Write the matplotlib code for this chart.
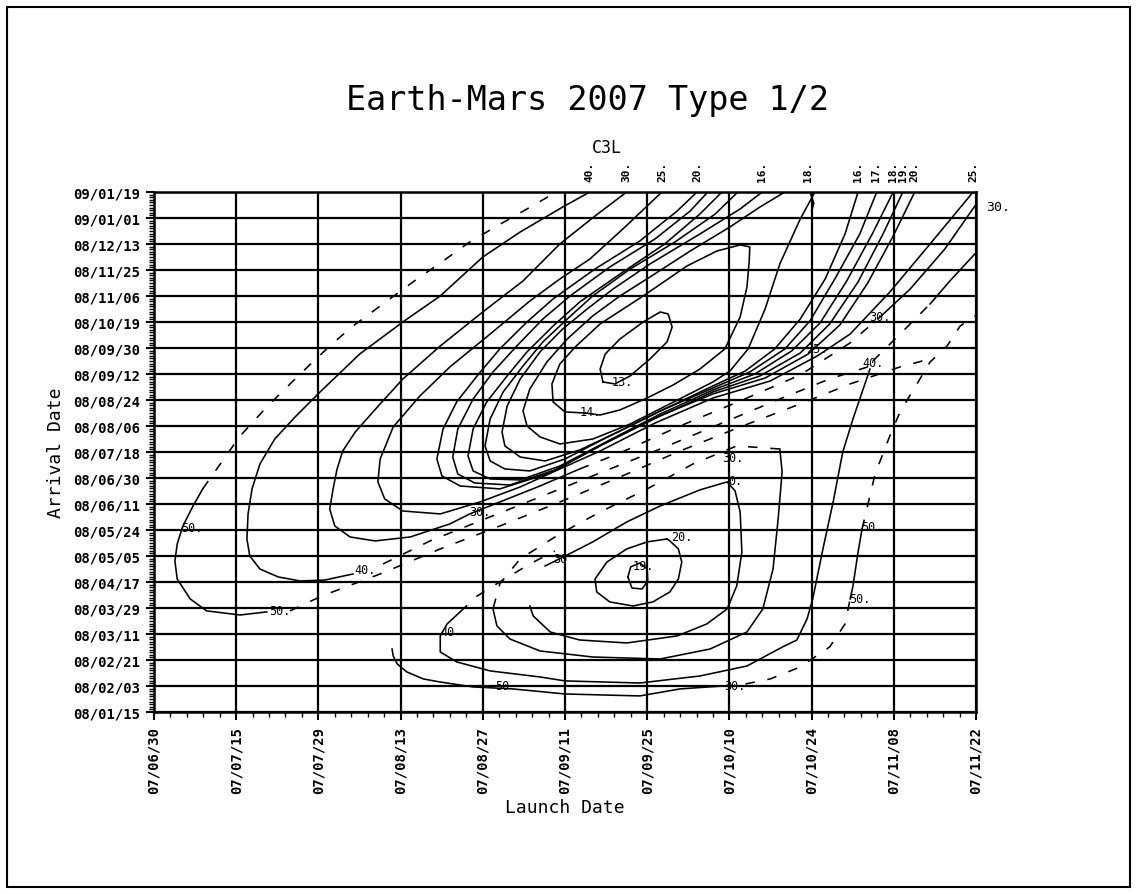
import matplotlib
matplotlib.use("Agg")
import matplotlib.pyplot as plt
import matplotlib.transforms as mtransforms
from matplotlib.patches import Rectangle
from matplotlib.ticker import FixedLocator, MultipleLocator

# launch: days after 2007-06-30, arrival: days after 2008-01-15
launch_ticks = ["07/06/30", "07/07/15", "07/07/29", "07/08/13", "07/08/27", "07/09/11",
                "07/09/25", "07/10/10", "07/10/24", "07/11/08", "07/11/22"]
arrival_ticks = ["08/01/15", "08/02/03", "08/02/21", "08/03/11", "08/03/29", "08/04/17",
                 "08/05/05", "08/05/24", "08/06/11", "08/06/30", "08/07/18", "08/08/06",
                 "08/08/24", "08/09/12", "08/09/30", "08/10/19", "08/11/06", "08/11/25",
                 "08/12/13", "09/01/01", "09/01/19"]
launch_span = 145.0
arrival_span = 370.0

# ---- C3L contours, upper (long transfer) family ----
up13_lau = [79.2, 78.7, 79.6, 82.2, 86.3, 89.3, 90.7, 91.4, 90.5, 87.5, 84.0, 81.3, 79.2]
up13_arr = [234.8, 244.0, 254.7, 265.4, 277.5, 284.6, 283.2, 273.9, 263.3, 251.2, 239.1, 233.4, 234.8]

up14_lau = [76.0, 72.5, 70.4, 70.2, 71.6, 74.3, 78.7, 86.3, 94.0, 99.3, 103.4, 105.1, 105.0,
            104.6, 103.4, 100.7, 96.3, 91.6, 87.0, 82.2, 78.7, 76.0]
up14_arr = [212.7, 213.5, 220.6, 233.4, 247.6, 259.7, 276.1, 296.0, 317.3, 328.0, 332.3, 330.9,
            320.9, 302.4, 281.1, 258.3, 244.0, 232.7, 223.4, 214.9, 211.3, 212.7]

up15_lau = [111.3, 106.9, 101.6, 94.6, 87.5, 82.2, 77.4, 72.9, 69.3, 66.3, 65.1,
            65.8, 68.1, 71.6, 77.4, 84.0, 91.0, 98.6, 101.6, 104.8, 107.8, 110.4, 114.0, 116.6]
up15_arr = [370, 359.3, 345.1, 328.0, 309.5, 296.0, 281.8, 265.4, 249.0, 229.8, 214.2,
            203.5, 195.7, 190.7, 194.2, 204.9, 219.2, 234.8, 242.6, 258.3, 286.7, 318.8, 350.8, 370]

up16_lau = [107.3, 103.4, 96.3, 87.5, 81.0, 76.4, 72.1, 68.1, 64.6, 62.3, 61.4,
            61.9, 64.6, 69.0, 75.1, 82.2, 90.1, 98.6, 104.3, 109.5, 114.0, 118.4, 121.9, 124.2]
up16_arr = [370, 357.9, 340.1, 318.8, 301.0, 286.7, 272.5, 256.2, 236.9, 217.7, 199.2,
            189.3, 181.4, 178.6, 186.4, 199.9, 215.6, 232.0, 242.6, 258.3, 279.6, 308.1, 340.1, 370]

up17_lau = [103.0, 99.0, 91.9, 84.0, 77.4, 72.9, 68.6, 65.1, 61.6, 59.3, 58.4,
            59.3, 61.9, 66.3, 72.5, 80.4, 89.3, 98.6, 105.1, 111.3, 115.7, 120.1, 124.5, 127.5]
up17_arr = [370, 354.3, 334.4, 315.2, 296.0, 279.6, 263.3, 246.2, 227.7, 208.5, 189.3,
            178.6, 172.9, 171.5, 180.0, 196.4, 214.2, 230.5, 241.9, 258.3, 278.2, 308.1, 340.1, 370]

up18_lau = [100.2, 96.3, 90.1, 82.2, 75.1, 70.4, 65.8, 62.3, 58.7, 56.3, 55.4,
            56.3, 59.3, 64.6, 71.6, 80.4, 89.3, 98.6, 106.0, 112.5, 117.5, 122.2, 126.7, 130.4]
up18_arr = [370, 354.3, 333.0, 311.6, 291.7, 274.6, 256.2, 239.1, 220.6, 201.4, 182.2,
            171.5, 165.8, 165.1, 175.0, 193.5, 212.0, 229.1, 240.5, 256.9, 276.8, 306.7, 340.1, 370]

up19_lau = [97.7, 94.6, 88.4, 80.4, 73.4, 68.6, 64.0, 59.8, 56.3, 53.6, 52.7,
            53.6, 56.6, 62.8, 70.7, 79.6, 89.3, 98.6, 106.9, 114.0, 119.2, 124.2, 128.6, 132.1]
up19_arr = [370, 356.5, 336.6, 316.6, 296.0, 279.6, 260.4, 241.9, 222.7, 201.4, 181.4,
            169.3, 162.9, 161.5, 172.2, 191.4, 210.6, 227.7, 239.1, 255.4, 276.1, 306.0, 340.1, 370]

up20_lau = [95.8, 92.3, 85.7, 77.8, 70.4, 65.8, 61.0, 57.0, 53.4, 51.0, 49.9,
            50.8, 54.0, 61.0, 69.9, 78.7, 88.4, 98.6, 107.8, 115.4, 121.0, 125.9, 130.4, 134.2]
up20_arr = [370, 356.5, 335.1, 315.2, 293.9, 277.5, 258.3, 239.1, 220.6, 201.4, 180.0,
            167.9, 160.8, 158.7, 170.1, 189.3, 209.2, 226.3, 237.6, 254.7, 275.4, 305.2, 338.7, 370]

up25_lau = [89.6, 83.1, 76.9, 71.6, 66.3, 59.3, 52.2, 46.9, 42.2, 39.9, 39.5,
            40.7, 43.9, 50.5, 57.5, 64.6, 71.6, 78.7, 88.4, 98.6, 108.7, 117.0, 122.8, 129.8, 136.9, 144.5]
up25_arr = [370, 345.1, 322.3, 308.1, 292.4, 268.9, 245.5, 224.8, 202.8, 180.0, 163.7,
            151.6, 143.0, 140.9, 149.4, 160.1, 172.9, 185.7, 205.6, 223.4, 235.5, 253.3, 268.9, 298.8, 333.0, 370]

up30_lau = [83.4, 77.8, 71.6, 65.1, 58.0, 50.5, 43.9, 39.9, 35.5, 33.3, 32.3, 31.6, 31.0,
            31.9, 34.6, 39.0, 45.2, 52.2, 55.7, 61.0, 68.1, 75.1]
up30_arr = [370, 352.9, 333.0, 306.7, 284.6, 260.4, 236.9, 219.2, 199.2, 185.7, 172.9, 158.7, 144.4,
            132.3, 124.5, 121.7, 124.5, 133.8, 140.9, 149.4, 160.8, 172.9]
up30_dash_lau = [75.1, 82.2, 92.8, 103.4, 114.0, 122.8, 128.1]
up30_dash_arr = [172.9, 184.3, 203.5, 221.3, 239.8, 262.6, 281.1]
up30_end_lau = [128.1, 133.4, 139.5, 144.8]
up30_end_arr = [281.1, 301.0, 329.4, 360.0]

up40_lau = [76.9, 72.1, 64.6, 58.0, 50.5, 43.9, 36.3, 29.3, 24.9, 21.3, 18.7, 17.3, 16.6, 16.4,
            16.9, 18.7, 21.9, 25.8, 30.2, 35.1]
up40_arr = [370, 359.3, 341.5, 323.7, 296.0, 277.5, 254.7, 227.7, 209.9, 194.2, 176.5, 158.7, 140.9,
            123.1, 111.0, 101.7, 96.1, 93.2, 93.9, 98.2]
up40_dash_lau = [40.4, 48.7, 57.5, 68.1, 78.7, 89.3, 99.8, 110.4, 119.2, 125.9]
up40_dash_arr = [105.3, 121.7, 135.9, 153.0, 170.1, 187.1, 204.9, 222.7, 237.0, 245.5]
up40_tail_lau = [126.8, 132.5, 136.9]
up40_tail_arr = [249.7, 272.5, 290.3]
up40_end_lau = [136.9, 140.4, 144.8]
up40_end_arr = [290.3, 306.7, 325.9]

up50_lau = [8.6, 6.9, 5.1, 4.1, 3.7, 4.1, 6.4, 9.3, 15.2, 19.9]
up50_arr = [158.7, 146.6, 132.3, 119.5, 107.4, 94.6, 80.4, 71.9, 69.0, 71.2]
up50_dash_lau = [8.6, 10.2, 15.2, 19.9, 25.8, 31.0, 35.1, 40.4, 45.7, 51.0, 55.7, 60.5, 65.8, 70.4, 71.3]
up50_dash_arr = [158.7, 167.9, 196.4, 217.0, 240.5, 260.4, 274.6, 290.3, 306.0, 320.9, 334.4,
                 345.8, 357.9, 368.6, 370]
up50_low_lau = [24.0, 29.6, 39.9, 50.5, 61.0, 71.6, 82.2, 92.8, 103.4, 114.0, 122.8, 131.6, 136.9]
up50_low_arr = [71.9, 82.5, 98.2, 116.0, 132.3, 149.4, 167.2, 185.7, 202.8, 219.2, 233.4, 245.5, 251.2]

# short kink where two branches meet at the top edge
kink_lau = [115.7, 116.4, 116.0]
kink_arr = [370, 362.0, 356.5]

# ---- C3L contours, lower (short transfer) family ----
lo19_lau = [83.6, 84.1, 85.7, 87.0, 87.1, 86.1, 84.3, 83.6]
lo19_arr = [96.1, 103.2, 106.0, 101.7, 93.2, 87.5, 88.2, 96.1]

lo20_lau = [90.5, 87.0, 83.4, 79.9, 77.8, 78.1, 80.4, 84.5, 88.0, 91.0, 92.5, 93.1, 92.5, 91.0, 90.5]
lo20_arr = [123.1, 121.0, 116.0, 106.7, 94.6, 85.4, 78.3, 75.4, 78.3, 85.4, 94.6, 106.7, 116.0, 121.7, 123.1]

lo25_lau = [66.3, 66.9, 69.9, 75.1, 83.4, 92.3, 97.5, 101.1, 102.8, 103.7, 103.4, 102.5, 101.1,
            96.3, 89.3, 83.4, 77.4, 72.9, 69.0]
lo25_arr = [75.4, 68.3, 56.9, 51.2, 49.1, 54.1, 62.6, 73.3, 89.7, 113.8, 142.3, 157.3, 163.7,
            158.0, 146.6, 135.2, 121.0, 111.7, 103.9]

lo30_lau = [59.8, 60.5, 62.8, 68.1, 77.4, 89.3, 98.1, 104.6, 107.4, 109.2, 110.1, 110.8, 110.4]
lo30_arr = [73.3, 61.2, 51.9, 43.4, 39.1, 37.7, 44.8, 56.9, 73.3, 101.7, 137.3, 170.8, 187.1]
lo30_dash_lau = [110.4, 102.8, 95.1, 87.0, 78.7, 71.6, 64.6, 61.0, 59.8]
lo30_dash_arr = [187.1, 189.3, 176.5, 158.7, 142.3, 126.7, 108.9, 91.1, 73.3]

lo40_lau = [54.0, 51.7, 50.5, 50.5, 53.4, 59.3, 68.1, 72.5, 85.7, 96.3, 104.6, 110.9, 113.4, 115.2,
            116.2, 118.0, 119.8, 121.5, 123.3, 125.1, 126.3]
lo40_arr = [71.2, 62.6, 54.1, 42.7, 35.6, 29.2, 24.9, 22.1, 20.6, 25.6, 32.7, 46.3, 51.2, 66.2,
            80.4, 116.0, 149.4, 185.0, 208.5, 229.8, 244.0]
lo40_dash_lau = [54.0, 57.0, 61.0, 66.3, 70.7]
lo40_dash_arr = [71.2, 82.5, 92.5, 105.3, 114.5]

lo50_lau = [42.0, 42.2, 42.9, 44.6, 47.5, 50.5, 56.3, 63.3, 72.5, 85.7, 92.8, 100.4]
lo50_arr = [44.8, 39.8, 34.2, 28.5, 23.5, 21.3, 17.8, 16.4, 12.8, 11.4, 16.4, 18.5]
lo50_dash_lau = [100.4, 104.3, 108.7, 114.0, 119.2, 121.9, 122.8]
lo50_dash_arr = [18.5, 19.9, 23.5, 32.0, 46.3, 62.6, 80.4]
lo50_mid_lau = [122.8, 123.3, 124.2, 124.9]
lo50_mid_arr = [80.4, 89.7, 113.8, 130.2]
lo50_up_lau = [124.9, 127.2, 129.8, 131.6, 134.8, 136.9, 139.9, 142.2, 144.8]
lo50_up_arr = [130.2, 169.3, 196.4, 213.5, 234.8, 249.0, 260.4, 274.6, 281.8]

solid_curves = [
    (up13_lau, up13_arr), (up14_lau, up14_arr), (up15_lau, up15_arr), (up16_lau, up16_arr),
    (up17_lau, up17_arr), (up18_lau, up18_arr), (up19_lau, up19_arr), (up20_lau, up20_arr),
    (up25_lau, up25_arr), (up30_lau, up30_arr), (up30_end_lau, up30_end_arr),
    (up40_lau, up40_arr), (up40_end_lau, up40_end_arr), (up50_lau, up50_arr), (kink_lau, kink_arr),
    (lo19_lau, lo19_arr), (lo20_lau, lo20_arr), (lo25_lau, lo25_arr), (lo30_lau, lo30_arr),
    (lo40_lau, lo40_arr), (lo50_lau, lo50_arr), (lo50_mid_lau, lo50_mid_arr),
]
dashed_curves = [
    (up30_dash_lau, up30_dash_arr), (up40_dash_lau, up40_dash_arr), (up40_tail_lau, up40_tail_arr),
    (up50_dash_lau, up50_dash_arr), (up50_low_lau, up50_low_arr), (lo30_dash_lau, lo30_dash_arr),
    (lo40_dash_lau, lo40_dash_arr), (lo50_dash_lau, lo50_dash_arr), (lo50_up_lau, lo50_up_arr),
]

# contour labels inside the plot: text, launch, arrival
label_text = ["50.", "50.", "40.", "30.", "13.", "14.", "25.", "30.", "40.", "30.", "0.",
              "30", "20.", "19.", "50.", "50.", "40", "50", "30."]
label_lau = [6.7, 22.2, 37.2, 57.5, 82.6, 76.9, 117.0, 128.1, 126.8, 102.1, 102.5,
             71.6, 93.1, 86.3, 126.7, 124.5, 51.7, 61.4, 102.5]
label_arr = [131.6, 71.9, 101.7, 142.3, 234.8, 213.5, 258.3, 281.1, 249.0, 181.4, 164.4,
             108.9, 124.5, 103.9, 132.3, 80.4, 57.6, 18.5, 18.5]

# labels of contours leaving through the top edge
top_text = ["40.", "30.", "25.", "20.", "16.", "18.", "16.", "17.", "18.", "19.", "20.", "25."]
top_lau = [76.9, 83.4, 89.6, 95.8, 107.3, 115.4, 124.2, 127.4, 130.3, 132.1, 134.2, 144.5]

mono = "DejaVu Sans Mono"

fig = plt.figure(figsize=(11.37, 8.95), dpi=100)
ax = fig.add_axes([0.1354, 0.2034, 0.7230, 0.5810])

for lau, arr in solid_curves:
    ax.plot(lau, arr, color="black", lw=1.15, solid_joinstyle="round")
for lau, arr in dashed_curves:
    ax.plot(lau, arr, color="black", lw=1.15, dashes=(6, 8))

for s, x, y in zip(label_text, label_lau, label_arr):
    ax.text(x, y, s, fontsize=8.5, family=mono, ha="center", va="center")

ax.set_xlim(0, launch_span)
ax.set_ylim(0, arrival_span)
x_major = [i * launch_span / 10 for i in range(11)]
y_major = [i * arrival_span / 20 for i in range(21)]
ax.xaxis.set_major_locator(FixedLocator(x_major))
ax.yaxis.set_major_locator(FixedLocator(y_major))
ax.xaxis.set_minor_locator(MultipleLocator(launch_span / 50))
ax.yaxis.set_minor_locator(MultipleLocator(arrival_span / 200))
ax.set_xticklabels(launch_ticks, rotation=90, family=mono, fontweight="bold", fontsize=10)
ax.set_yticklabels(arrival_ticks, family=mono, fontweight="bold", fontsize=10)
ax.tick_params(which="major", direction="out", length=6, width=1.5, pad=4)
ax.tick_params(which="minor", direction="out", length=3.5, width=1.0)
ax.grid(True, which="major", color="black", lw=1.6)
for sp in ax.spines.values():
    sp.set_linewidth(1.8)

top_tr = mtransforms.blended_transform_factory(ax.transData, ax.transAxes)
for s, x in zip(top_text, top_lau):
    ax.text(x, 1.022, s, rotation=90, transform=top_tr, ha="center", va="bottom",
            fontsize=8, family=mono, fontweight="bold")
right_tr = mtransforms.blended_transform_factory(ax.transAxes, ax.transData)
ax.text(1.012, 360.0, "30.", transform=right_tr, ha="left", va="center", fontsize=9.5, family=mono)

ax.set_xlabel("Launch Date", family=mono, fontsize=13, labelpad=4)
ax.set_ylabel("Arrival Date", family=mono, fontsize=13, labelpad=6)

fig.text(0.517, 0.888, "Earth-Mars 2007 Type 1/2", ha="center", va="center",
         fontsize=24, family=mono)
fig.text(0.534, 0.8346, "C3L", ha="center", va="center", fontsize=12, family=mono)

fig.add_artist(Rectangle((7 / 1137, 1 - 888 / 895), 1123 / 1137, 880 / 895,
                         transform=fig.transFigure, fill=False, lw=1.5, color="black"))

fig.savefig("out.png", dpi=100)
